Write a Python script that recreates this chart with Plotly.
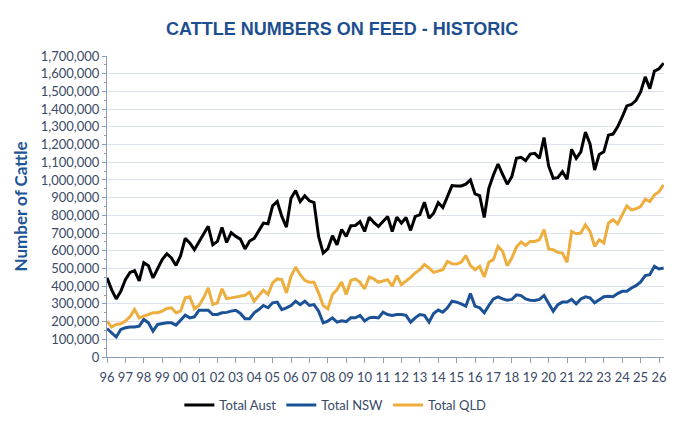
import plotly.graph_objects as go

# quarterly points, first one sits on the '96' tick
quarters = [1996 + q / 4 for q in range(122)]

total_aust = [
    447, 381, 328, 371, 437, 478, 488, 430, 533, 515, 447, 498,
    550, 583, 559, 517, 572, 670, 644, 606, 655, 695, 738, 634,
    653, 732, 647, 702, 681, 666, 610, 655, 670, 715, 756, 752,
    854, 878, 794, 734, 897, 940, 878, 910, 882, 872, 681, 587,
    610, 685, 634, 720, 681, 741, 743, 765, 709, 790, 760, 737,
    765, 794, 709, 790, 756, 788, 715, 794, 803, 874, 784, 812,
    872, 844, 906, 968, 966, 966, 976, 1000, 921, 912, 788, 953,
    1028, 1090, 1032, 976, 1019, 1122, 1128, 1109, 1146, 1150, 1122, 1240,
    1079, 1009, 1013, 1047, 1004, 1173, 1122, 1159, 1270, 1203, 1056, 1144,
    1159, 1253, 1259, 1300, 1356, 1418, 1426, 1450, 1497, 1582, 1516, 1615,
    1628, 1660,
]
total_nsw = [
    161, 137, 113, 156, 165, 169, 169, 174, 212, 193, 146, 184,
    189, 193, 193, 180, 208, 236, 221, 227, 264, 264, 264, 240,
    240, 250, 252, 259, 264, 246, 216, 216, 250, 268, 291, 278,
    306, 310, 268, 278, 291, 315, 296, 315, 291, 296, 259, 193,
    203, 221, 197, 205, 200, 221, 221, 235, 203, 221, 225, 221,
    253, 240, 235, 240, 240, 235, 197, 221, 240, 235, 197, 246,
    265, 253, 278, 315, 310, 300, 287, 358, 287, 278, 250, 291,
    328, 340, 328, 321, 325, 351, 347, 328, 321, 319, 325, 347,
    300, 259, 296, 310, 310, 325, 300, 328, 340, 334, 306, 321,
    340, 343, 340, 358, 371, 371, 390, 403, 424, 460, 465, 512,
    497, 503,
]
total_qld = [
    203, 169, 184, 188, 203, 227, 268, 221, 231, 240, 250, 250,
    259, 274, 278, 250, 259, 334, 340, 272, 291, 334, 390, 296,
    306, 385, 330, 334, 340, 343, 349, 366, 315, 347, 377, 353,
    418, 441, 437, 362, 456, 508, 465, 433, 422, 422, 362, 291,
    272, 353, 381, 424, 353, 432, 441, 422, 385, 452, 441, 422,
    428, 437, 400, 460, 409, 428, 450, 475, 493, 522, 503, 478,
    484, 493, 540, 527, 525, 535, 572, 516, 493, 512, 452, 535,
    550, 625, 597, 516, 559, 621, 649, 630, 653, 653, 662, 719,
    610, 606, 591, 587, 535, 709, 696, 700, 747, 709, 625, 662,
    644, 756, 775, 752, 803, 854, 831, 837, 850, 891, 878, 916,
    934, 972,
]

year_ticks = list(range(1996, 2027))
year_labels = [str(y)[2:] for y in year_ticks]

series = [
    ("Total Aust", total_aust, "#000000"),
    ("Total NSW", total_nsw, "#1B5296"),
    ("Total QLD", total_qld, "#EDAE3E"),
]

fig = go.Figure()
for name, vals, colour in series:
    fig.add_trace(go.Scatter(
        x=quarters,
        y=[v * 1000 for v in vals],
        mode="lines",
        name=name,
        line=dict(color=colour, width=3),
    ))

axis_col = "#8C9DB5"
tick_font = dict(family="Lato, Liberation Sans, sans-serif", size=13, color="#3A4A66")

# page body adds an 8px margin, so the figure is drawn 8px smaller and offset
fig.update_layout(
    width=689,
    height=420,
    margin=dict(l=99, r=33, t=48, b=71, autoexpand=False),
    paper_bgcolor="white",
    plot_bgcolor="white",
    title=dict(
        text="<b>CATTLE NUMBERS ON FEED - HISTORIC</b>",
        x=0.485,
        xanchor="center",
        y=0.95,
        yanchor="middle",
        font=dict(family="Liberation Sans, Arial, sans-serif", size=18, color="#1D4E8F"),
    ),
    showlegend=True,
    legend=dict(
        orientation="h",
        x=0.41,
        xanchor="center",
        y=-0.16,
        yanchor="middle",
        font=dict(family="Lato, Liberation Sans, sans-serif", size=13, color="#3A4A66"),
        itemwidth=30,
        tracegroupgap=0,
    ),
)

fig.update_xaxes(
    range=[1996, 2026.27],
    tickvals=year_ticks,
    ticktext=year_labels,
    tickangle=0,
    showgrid=False,
    showline=True,
    linecolor=axis_col,
    linewidth=1,
    ticks="outside",
    ticklen=5,
    tickcolor=axis_col,
    ticklabelstandoff=3,
    tickfont=tick_font,
    zeroline=False,
    automargin=False,
)

fig.update_yaxes(
    range=[0, 1700000],
    dtick=100000,
    tickformat=",",
    showgrid=True,
    gridcolor="#DCE3EE",
    gridwidth=1,
    showline=True,
    linecolor=axis_col,
    linewidth=1,
    ticks="outside",
    ticklen=4,
    tickcolor=axis_col,
    minor=dict(dtick=50000, ticks="outside", ticklen=2, tickcolor=axis_col, showgrid=False),
    tickfont=tick_font,
    zeroline=False,
    automargin=False,
    title=dict(
        text="<b>Number of Cattle</b>",
        font=dict(family="Lato, Liberation Sans, sans-serif", size=17, color="#1F5597"),
        standoff=8,
    ),
)

fig.write_html("out.html")
